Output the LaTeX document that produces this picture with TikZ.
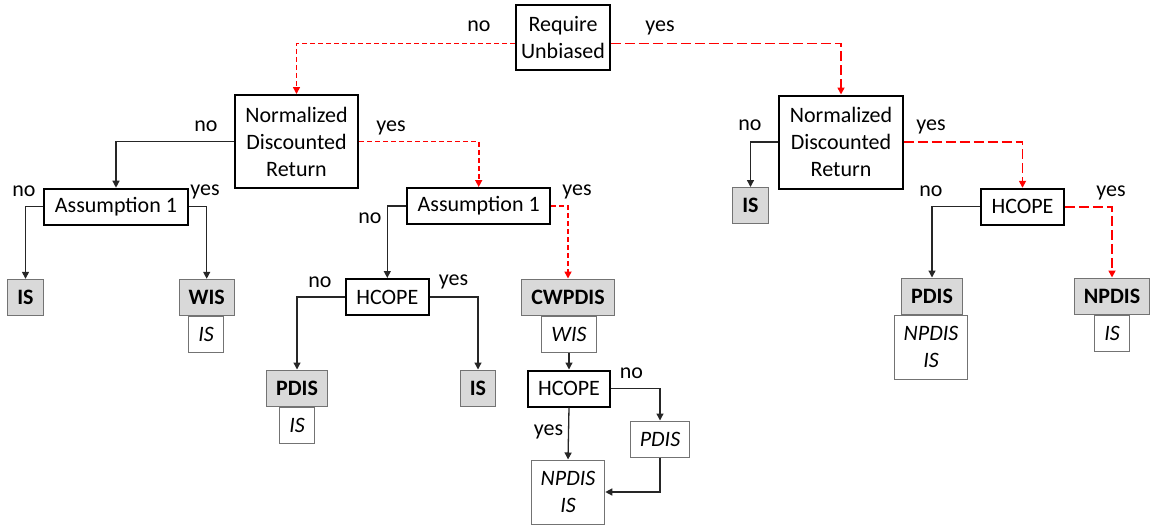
\documentclass[tikz,border=0pt]{standalone}
\usepackage{fontspec}
\setmainfont{Carlito}
\usetikzlibrary{arrows.meta}

\begin{document}
\begin{tikzpicture}[x=1pt, y=-1pt,
    every node/.style={font=\fontsize{22}{27}\selectfont},
    question/.style={draw=black, line width=2pt, fill=white, align=center, inner xsep=10.5pt, inner ysep=0pt, minimum height=36pt},
    answer/.style={draw=black!55, line width=1pt, fill=black!15, font=\fontsize{22}{27}\selectfont\bfseries, inner xsep=9.5pt, inner ysep=0pt, minimum height=36pt},
    fallback/.style={draw=black!55, line width=1pt, fill=white, align=center, font=\fontsize{22}{27}\selectfont\itshape, inner xsep=9.5pt, inner ysep=0pt, minimum height=36pt},
    branch/.style={inner sep=0pt, anchor=base},
    arr/.style={draw=black!85, line width=1.3pt, -{Triangle[length=7pt, width=7pt]}},
    chosen/.style={draw=red, line width=1.6pt, dash pattern=on 5pt off 3pt, -{Triangle[length=7pt, width=7pt]}},
    chosenlong/.style={draw=red, line width=1.6pt, dash pattern=on 10pt off 4pt, -{Triangle[length=7pt, width=7pt]}}]

    % fix picture size
    \useasboundingbox (0, 0) rectangle (1152, 525);

    % draw questions
    \node[question, inner xsep=5pt, minimum height=65pt] (ru) at (563, 37.5) {Require\\Unbiased};
    \node[question, minimum height=93pt] (ndrL) at (296.5, 141.5) {Normalized\\Discounted\\Return};
    \node[question, minimum height=93pt] (ndrR) at (841, 142) {Normalized\\Discounted\\Return};
    \node[question] (asmL) at (116, 206.7) {Assumption 1};
    \node[question] (asmM) at (478.7, 206) {Assumption 1};
    \node[question] (hcM) at (387.3, 297) {HCOPE};
    \node[question] (hcR) at (1022.5, 206.8) {HCOPE};

    % draw estimators
    \node[answer] (isL) at (25.5, 297.3) {IS};
    \node[answer] (wisL) at (206.7, 297.3) {WIS};
    \node[fallback] (isW) at (206, 334.5) {IS};
    \node[answer] (pdM) at (297, 388) {PDIS};
    \node[fallback] (isPd) at (297, 425) {IS};
    \node[answer] (isM) at (478, 388) {IS};
    \node[answer] (cw) at (568, 297) {CWPDIS};
    \node[fallback] (wisC) at (569, 334.5) {WIS};
    \node[question] (hcB) at (569, 388.5) {HCOPE};
    \node[fallback] (pdB) at (660, 439) {PDIS};
    \node[fallback, minimum height=64pt] (npB) at (568, 492) {NPDIS\\IS};
    \node[answer] (isR) at (750.5, 205.5) {IS};
    \node[answer] (pdR) at (932, 296) {PDIS};
    \node[fallback, minimum height=64pt] (npR) at (931, 347) {NPDIS\\IS};
    \node[answer] (npdR) at (1112, 296) {NPDIS};
    \node[fallback] (isNp) at (1112, 333) {IS};

    % draw branches
    \draw[chosen] ([yshift=-6pt]ru.west) -| (ndrL.north);
    \draw[chosenlong] ([yshift=-6pt]ru.east) -| (ndrR.north);
    \draw[arr] (ndrL.west) -| (asmL.north);
    \draw[chosen] (ndrL.east) -| (asmM.north);
    \draw[arr] (asmL.west) -| (isL.north);
    \draw[arr] (asmL.east) -| (wisL.north);
    \draw[arr] (asmM.west) -| (hcM.north);
    \draw[chosen] (asmM.east) -| (cw.north);
    \draw[arr] (hcM.west) -| (pdM.north);
    \draw[arr] (hcM.east) -| (isM.north);
    \draw[arr] (wisC.south) -- (hcB.north);
    \draw[arr] (hcB.east) -| (pdB.north);
    \draw[arr] (hcB.south) -- (npB.north);
    \draw[arr] (pdB.south) |- (npB.east);
    \draw[arr] (ndrR.west) -| (isR.north);
    \draw[chosenlong] (ndrR.east) -| (hcR.north);
    \draw[arr] (hcR.west) -| (pdR.north);
    \draw[chosenlong] (hcR.east) -| (npdR.north);

    % draw branch labels
    \node[branch] (ruNo) at (479, 31) {no};
    \node[branch] (ruYes) at (660, 31) {yes};
    \node[branch] (ndrLNo) at (206, 131) {no};
    \node[branch] (ndrLYes) at (391, 131) {yes};
    \node[branch] (asmLNo) at (24, 196) {no};
    \node[branch] (asmLYes) at (205, 195) {yes};
    \node[branch] (asmMNo) at (370, 223) {no};
    \node[branch] (asmMYes) at (577, 195) {yes};
    \node[branch] (hcMNo) at (320, 287) {no};
    \node[branch] (hcMYes) at (453.5, 285) {yes};
    \node[branch] (hcBNo) at (631.5, 378) {no};
    \node[branch] (hcBYes) at (548.5, 435.7) {yes};
    \node[branch] (ndrRNo) at (750, 130) {no};
    \node[branch] (ndrRYes) at (931, 130.7) {yes};
    \node[branch] (hcRNo) at (931, 196) {no};
    \node[branch] (hcRYes) at (1111, 196) {yes};

\end{tikzpicture}
\end{document}
